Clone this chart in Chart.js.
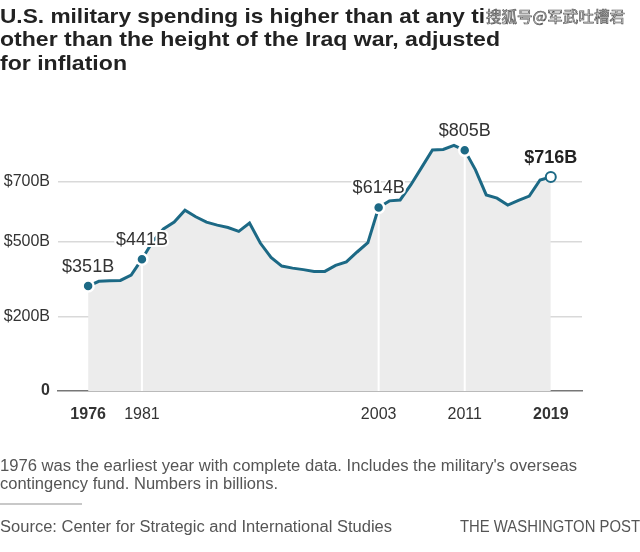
<!DOCTYPE html>
<html><head><meta charset="utf-8">
<script src="https://cdn.jsdelivr.net/npm/chart.js@4"></script>
<style>
html,body{margin:0;padding:0;background:#fff;}
body{width:640px;height:552px;overflow:hidden;position:relative;font-family:"Liberation Sans",Arial,sans-serif;}
.t{position:absolute;left:0;white-space:nowrap;transform-origin:0 0;line-height:1;}
.title{font-weight:bold;font-size:21px;color:#222;}
.note{font-size:16px;color:#555;}
#wm{position:absolute;left:486px;top:8px;font-family:"Noto Sans CJK SC",sans-serif;font-size:15px;line-height:1;color:#f4f4f4;-webkit-text-stroke:0.7px #555;white-space:nowrap;transform-origin:0 0;}
#rule{position:absolute;left:0;top:503px;width:82px;height:2px;background:#c8c8c8;}
canvas{position:absolute;left:0;top:0;}
</style></head>
<body>
<canvas id="c" width="640" height="552"></canvas>
<div class="t title fit" data-w="485" style="top:5px">U.S. military spending is higher than at any ti</div>
<div id="wm" class="fitwm" data-w="139">搜狐号@军武吐槽君</div>
<div class="t title fit" data-w="500" style="top:28px">other than the height of the Iraq war, adjusted</div>
<div class="t title fit" data-w="127" style="top:52px">for inflation</div>
<div class="t note fit" data-w="577" style="top:458px">1976 was the earliest year with complete data. Includes the military's overseas</div>
<div class="t note fit" data-w="278" style="top:475.5px">contingency fund. Numbers in billions.</div>
<div id="rule"></div>
<div class="t note fit" data-w="392" style="top:518.5px">Source: Center for Strategic and International Studies</div>
<div class="t note fit" id="wapo" data-w="180" style="top:518.5px">THE WASHINGTON POST</div>
<script>
// ---- data ----
const years = [1976,1977,1978,1979,1980,1981,1982,1983,1984,1985,1986,1987,1988,1989,1990,1991,1992,1993,1994,1995,1996,1997,1998,1999,2000,2001,2002,2003,2004,2005,2006,2007,2008,2009,2010,2011,2012,2013,2014,2015,2016,2017,2018,2019];
const spending = [351,367,369,370,388,441,500,542,565,605,583,565,555,547,534,562,495,447,418,411,406,400,400,420,432,465,496,614,636,639,690,748,806,808,822,805,740,656,645,622,638,652,706,716];
const annoYears = [1976,1981,2003,2011,2019];
const annoLabels = ['$351B','$441B','$614B','$805B','$716B'];
const markerYears = [1981,2003,2011];
const xTickYears = [1976,1981,2003,2011,2019];
const boldYears = [1976,2019];
const yTickValues = [0,250,500,700];
const yTickLabels = ['0','$200B','$500B','$700B'];

// fit text widths
document.querySelectorAll('.fit, .fitwm').forEach(el=>{
  const w = el.getBoundingClientRect().width;
  const target = +el.dataset.w;
  el.style.transform = 'scaleX(' + (target / w) + ')';
});
document.getElementById('wapo').style.left = (640 - 180) + 'px';

const teal = '#1c6985';
Chart.defaults.font.family = '"Liberation Sans", Arial, sans-serif';
Chart.defaults.color = '#333';

const pts = years.map((y,i)=>({x:y, y:spending[i]}));
const lastYear = years[years.length-1];

const markerPlugin = {
  id:'markers',
  afterDatasetDraw(chart, args){
    if (args.index !== 1) return;
    const {ctx, scales:{x,y}} = chart;
    ctx.save();
    ctx.strokeStyle = '#fff';
    ctx.lineWidth = 2;
    markerYears.forEach(yr=>{
      const v = spending[years.indexOf(yr)];
      const px = x.getPixelForValue(yr);
      ctx.beginPath();
      ctx.moveTo(px, y.getPixelForValue(v));
      ctx.lineTo(px, y.getPixelForValue(0));
      ctx.stroke();
    });
    ctx.restore();
  },
  afterDatasetsDraw(chart){
    const {ctx, scales:{x,y}} = chart;
    ctx.save();
    ctx.textAlign = 'center';
    ctx.textBaseline = 'middle';
    annoYears.forEach((yr,i)=>{
      const v = spending[years.indexOf(yr)];
      const px = x.getPixelForValue(yr);
      const py = y.getPixelForValue(v) - 19;
      const bold = yr === lastYear;
      ctx.font = (bold ? 'bold ' : '') + '18px "Liberation Sans", Arial, sans-serif';
      ctx.lineWidth = 4;
      ctx.strokeStyle = '#fff';
      ctx.lineJoin = 'round';
      ctx.strokeText(annoLabels[i], px, py);
      ctx.fillStyle = bold ? '#222' : '#333';
      ctx.fillText(annoLabels[i], px, py);
    });
    ctx.restore();
  }
};

new Chart(document.getElementById('c'), {
  type:'line',
  data:{
    datasets:[
      {
        data: pts,
        borderColor: teal,
        borderWidth: 3,
        tension: 0,
        fill: false,
        order: 1,
        pointRadius: c => annoYears.includes(c.raw && c.raw.x) ? (c.raw.x === lastYear ? 5 : 5.5) : 0,
        pointBackgroundColor: c => (c.raw && c.raw.x === lastYear) ? '#fff' : teal,
        pointBorderColor: c => (c.raw && c.raw.x === lastYear) ? teal : '#fff',
        pointBorderWidth: c => (c.raw && c.raw.x === lastYear) ? 2 : 2.5,
        clip: false
      },
      {
        data: pts,
        borderWidth: 0,
        borderColor: 'rgba(0,0,0,0)',
        backgroundColor: '#ececec',
        fill: 'origin',
        pointRadius: 0,
        tension: 0,
        order: 2
      }
    ]
  },
  options:{
    responsive:false,
    animation:false,
    events:[],
    layout:{padding:{top:110,right:58,left:0,bottom:0}},
    plugins:{legend:{display:false},tooltip:{enabled:false},title:{display:false}},
    scales:{
      x:{
        type:'linear',
        min:1973.2, max:2021.9,
        z:1,
        afterFit(s){ s.height = 161; },
        afterBuildTicks(s){ s.ticks = xTickYears.map(v=>({value:v})); },
        grid:{display:false, drawTicks:false},
        border:{display:true, color:'#777', width:1.5},
        ticks:{
          padding:14,
          maxRotation:0,
          autoSkip:false,
          color:'#333',
          font: c => ({size:16, weight: (c.tick && boldYears.includes(c.tick.value)) ? 'bold' : 'normal'}),
          callback: v => String(v)
        }
      },
      y:{
        min:0, max:940,
        afterFit(s){ s.width = 58; },
        afterBuildTicks(s){ s.ticks = yTickValues.map(v=>({value:v})); },
        grid:{drawTicks:false, color: c => (c.tick && c.tick.value === 0) ? 'rgba(0,0,0,0)' : '#d9d9d9', lineWidth:1.5},
        border:{display:false},
        ticks:{
          padding:8,
          color:'#333',
          font: c => ({size:16, weight: (c.tick && c.tick.value === 0) ? 'bold' : 'normal'}),
          callback: (v) => yTickLabels[yTickValues.indexOf(v)]
        }
      }
    }
  },
  plugins:[markerPlugin]
});
</script>
</body></html>
